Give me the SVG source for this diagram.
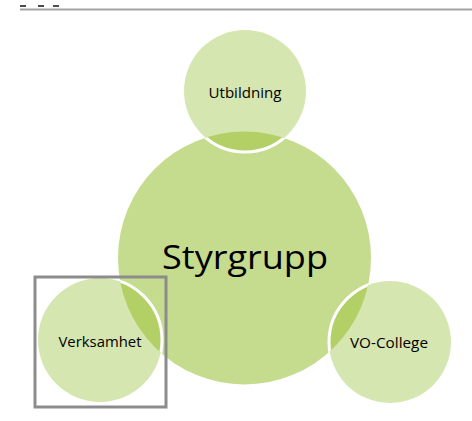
<svg xmlns="http://www.w3.org/2000/svg" width="472" height="421" viewBox="0 0 472 421">
<style>
.small{fill:#d6e6b0;}
.big{fill:#c5dc8e;}
.ov{fill:#b2d066;}
.ring{fill:none;stroke:#ffffff;stroke-width:3;}
.lbl{font-family:"Open Sans","Liberation Sans",sans-serif;font-size:14px;font-weight:500;fill:#000;text-anchor:middle;}
.title{font-family:"Open Sans","Liberation Sans",sans-serif;font-size:33px;fill:#000;text-anchor:middle;}
</style>
<defs>
<clipPath id="bigClip"><circle cx="244.5" cy="258" r="126.5"/></clipPath>
</defs>
<g id="header">
<line x1="20" y1="9.5" x2="472" y2="9.5" stroke="#a3a3a3" stroke-width="2"/>
<line x1="20" y1="6" x2="26" y2="6" stroke="#111" stroke-width="1.5"/>
<line x1="38" y1="6" x2="44" y2="6" stroke="#111" stroke-width="1.5"/>
<line x1="53" y1="6" x2="59" y2="6" stroke="#111" stroke-width="1.5"/>
</g>
<g id="styrgrupp">
<circle class="big" cx="244.5" cy="258" r="126.5"/>
<text class="title" x="245" y="269" textLength="166" lengthAdjust="spacingAndGlyphs">Styrgrupp</text>
</g>
<g id="utbildning">
<circle class="small" cx="245" cy="91" r="61"/>
<circle class="ov" cx="245" cy="91" r="61" clip-path="url(#bigClip)"/>
<circle class="ring" cx="245" cy="91" r="61" clip-path="url(#bigClip)"/>
<text class="lbl" x="245" y="98" textLength="73" lengthAdjust="spacingAndGlyphs">Utbildning</text>
</g>
<g id="verksamhet">
<circle class="small" cx="100" cy="340" r="62"/>
<circle class="ov" cx="100" cy="340" r="62" clip-path="url(#bigClip)"/>
<circle class="ring" cx="100" cy="340" r="62" clip-path="url(#bigClip)"/>
<text class="lbl" x="100" y="347" textLength="83" lengthAdjust="spacingAndGlyphs">Verksamhet</text>
<rect x="35" y="277" width="131" height="130" fill="none" stroke="#8c8c8c" stroke-width="3"/>
</g>
<g id="vo-college">
<circle class="small" cx="390" cy="342" r="61"/>
<circle class="ov" cx="390" cy="342" r="61" clip-path="url(#bigClip)"/>
<circle class="ring" cx="390" cy="342" r="61" clip-path="url(#bigClip)"/>
<text class="lbl" x="389" y="348" textLength="78" lengthAdjust="spacingAndGlyphs">VO-College</text>
</g>
<g id="connectors"></g>
</svg>
